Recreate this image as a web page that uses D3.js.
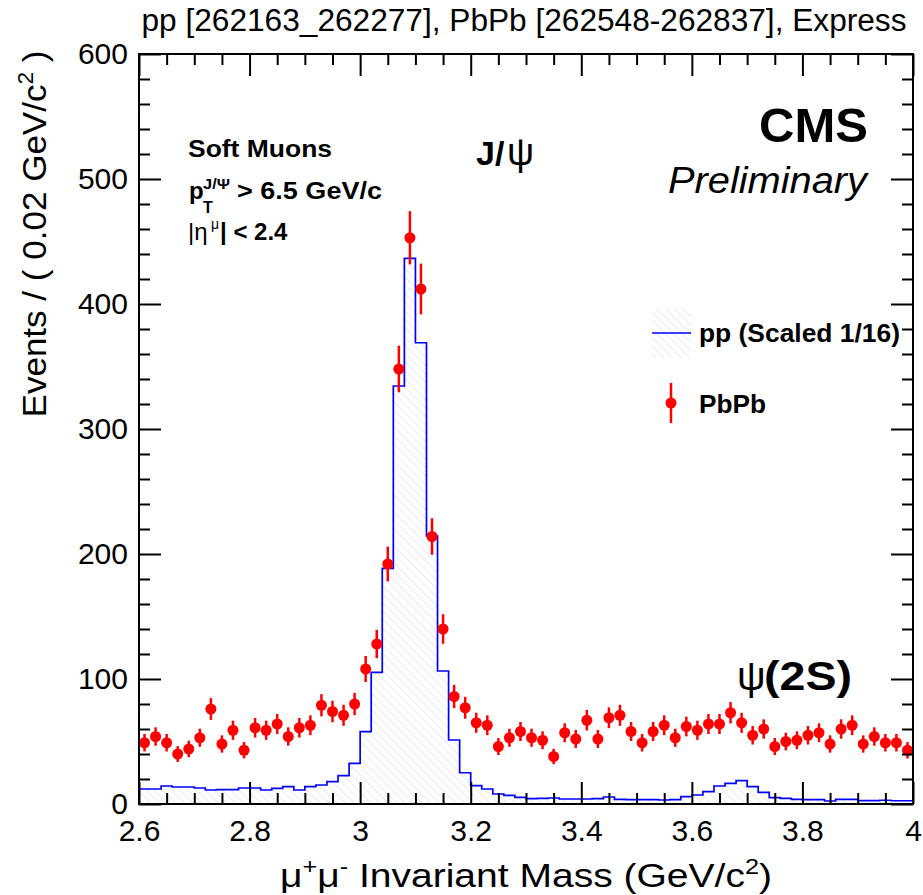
<!DOCTYPE html>
<html>
<head>
<meta charset="utf-8">
<script src="https://cdn.jsdelivr.net/npm/d3@7"></script>
<style>
  body { margin: 0; background: #fff; }
  text { font-family: "Liberation Sans", Arial, Helvetica, sans-serif; fill: #000; }
</style>
</head>
<body>
<div id="chart"></div>
<script>
// binning of the mass axis
var xMin = 2.6, xMax = 4.0, binWidth = 0.02;

// pp reference (scaled 1/16), one value per 0.02 GeV bin from 2.60
var ppCounts = [
  12, 12, 14.4, 13.6, 13.6, 12.8, 11.2, 11.5, 11.5, 12.8,
  12.8, 11.2, 12.5, 13.9, 11.2, 13.9, 15.2, 17.9, 22.7, 32.5,
  57.9, 105.3, 188.5, 334.4, 436.5, 369, 214.4, 106.4, 51.2, 25,
  14.7, 12, 8, 6.9, 5.3, 4.3, 4.5, 4.8, 4, 4,
  4, 4.3, 5.6, 3.7, 3.5, 3.5, 3.5, 3.2, 3.5, 5.9,
  7.2, 9.9, 14.4, 16.5, 18.7, 13.9, 9.3, 5.1, 4.5, 3.7,
  3.5, 3.5, 2.4, 3.7, 3.7, 2.7, 2.7, 3, 2.6, 2.6
];

// PbPb events per bin
var pbpbCounts = [
  49, 54, 49, 40, 44, 53, 76, 48, 59, 43,
  61, 59, 64, 54, 61, 63, 79, 74, 71, 80,
  108, 128, 192, 348, 453, 412, 214, 140, 86, 77,
  65, 63, 46, 53, 58, 53, 51, 38, 57, 52,
  67, 52, 69, 71, 58, 49, 58, 63, 53, 62,
  59, 64, 64, 73, 65, 55, 60, 46, 50, 51,
  55, 57, 48, 60, 63, 48, 54, 49, 49, 43
];

var xMajorTicks = [2.6, 2.8, 3.0, 3.2, 3.4, 3.6, 3.8, 4.0];
var yMajorTicks = [0, 100, 200, 300, 400, 500, 600];

var width = 923,
    height = 895;

var x = d3.scaleLinear().domain([xMin, xMax]).range([139, 913]);
var y = d3.scaleLinear().domain([0, 600]).range([804, 54]);

var svg = d3.select("#chart").append("svg")
  .attr("width", width)
  .attr("height", height);

// hatch for the pp histogram
var defs = svg.append("defs");
defs.append("pattern")
  .attr("id", "hatch")
  .attr("patternUnits", "userSpaceOnUse")
  .attr("width", 6)
  .attr("height", 6)
  .attr("patternTransform", "rotate(-45)")
  .append("line")
  .attr("x1", 0).attr("y1", 0).attr("x2", 0).attr("y2", 6)
  .attr("stroke", "#d9dcf3")
  .attr("stroke-width", 1.2);

defs.append("clipPath").attr("id", "clip")
  .append("rect")
  .attr("x", x(xMin)).attr("y", y(600))
  .attr("width", x(xMax) - x(xMin)).attr("height", y(0) - y(600));

// step data: low edge of every bin, then the last edge
var steps = ppCounts.map(function(v, i) {
  return { m: xMin + i * binWidth, v: v };
});
steps.push({ m: xMax, v: ppCounts[ppCounts.length - 1] });

var plot = svg.append("g").attr("clip-path", "url(#clip)");

plot.append("path")
  .datum(steps)
  .attr("fill", "url(#hatch)")
  .attr("d", d3.area()
    .curve(d3.curveStepAfter)
    .x(function(d) { return x(d.m); })
    .y0(y(0))
    .y1(function(d) { return y(d.v); }));

plot.append("path")
  .datum(steps)
  .attr("fill", "none")
  .attr("stroke", "#0000ff")
  .attr("stroke-width", 1.7)
  .attr("d", d3.line()
    .curve(d3.curveStepAfter)
    .x(function(d) { return x(d.m); })
    .y(function(d) { return y(d.v); }));

// PbPb points with poisson errors
var pts = pbpbCounts.map(function(v, i) {
  return { m: xMin + (i + 0.5) * binWidth, v: v, e: Math.sqrt(v) };
});

plot.selectAll(".err")
  .data(pts)
  .enter().append("line")
  .attr("class", "err")
  .attr("x1", function(d) { return x(d.m); })
  .attr("x2", function(d) { return x(d.m); })
  .attr("y1", function(d) { return y(d.v - d.e); })
  .attr("y2", function(d) { return y(d.v + d.e); })
  .attr("stroke", "#ff0000")
  .attr("stroke-width", 2.5);

plot.selectAll(".pt")
  .data(pts)
  .enter().append("circle")
  .attr("class", "pt")
  .attr("cx", function(d) { return x(d.m); })
  .attr("cy", function(d) { return y(d.v); })
  .attr("r", 5.5)
  .attr("fill", "#ff0000");

// axes, ROOT style: ticks inside on all four sides
var xMinor = d3.range(xMin, xMax + 0.001, 0.05).filter(function(v) {
  return Math.abs(v * 5 - Math.round(v * 5)) > 1e-6;
});
var yMinor = d3.range(0, 601, 20).filter(function(v) { return v % 100 != 0; });

function styleAxis(g) {
  g.select(".domain").remove();
  g.selectAll(".tick line").attr("stroke", "#000").attr("stroke-width", 2);
  g.selectAll(".tick text")
    .style("font-family", '"Liberation Sans", Arial, sans-serif')
    .style("font-size", "30px")
    .attr("fill", "#000");
}

svg.append("g")
  .attr("transform", "translate(0," + y(0) + ")")
  .call(d3.axisBottom(x).tickValues(xMajorTicks).tickSize(-22).tickPadding(16)
    .tickFormat(function(d) { return d3.format("")(+d.toFixed(1)); }))
  .call(styleAxis);
svg.append("g")
  .attr("transform", "translate(0," + y(0) + ")")
  .call(d3.axisBottom(x).tickValues(xMinor).tickSize(-11).tickFormat(""))
  .call(styleAxis);
svg.append("g")
  .attr("transform", "translate(0," + y(600) + ")")
  .call(d3.axisTop(x).tickValues(xMajorTicks).tickSize(-22).tickFormat(""))
  .call(styleAxis);
svg.append("g")
  .attr("transform", "translate(0," + y(600) + ")")
  .call(d3.axisTop(x).tickValues(xMinor).tickSize(-11).tickFormat(""))
  .call(styleAxis);

svg.append("g")
  .attr("transform", "translate(" + x(xMin) + ",0)")
  .call(d3.axisLeft(y).tickValues(yMajorTicks).tickSize(-22).tickPadding(11))
  .call(styleAxis);
svg.append("g")
  .attr("transform", "translate(" + x(xMin) + ",0)")
  .call(d3.axisLeft(y).tickValues(yMinor).tickSize(-11).tickFormat(""))
  .call(styleAxis);
svg.append("g")
  .attr("transform", "translate(" + x(xMax) + ",0)")
  .call(d3.axisRight(y).tickValues(yMajorTicks).tickSize(-22).tickFormat(""))
  .call(styleAxis);
svg.append("g")
  .attr("transform", "translate(" + x(xMax) + ",0)")
  .call(d3.axisRight(y).tickValues(yMinor).tickSize(-11).tickFormat(""))
  .call(styleAxis);

// frame
svg.append("rect")
  .attr("x", x(xMin)).attr("y", y(600))
  .attr("width", x(xMax) - x(xMin)).attr("height", y(0) - y(600))
  .attr("fill", "none")
  .attr("stroke", "#000")
  .attr("stroke-width", 2);

// title
svg.append("text")
  .attr("x", 524).attr("y", 31)
  .attr("text-anchor", "middle")
  .attr("textLength", 765)
  .attr("lengthAdjust", "spacingAndGlyphs")
  .style("font-size", "31px")
  .text("pp [262163_262277], PbPb [262548-262837], Express");

// axis titles
var yl = svg.append("text")
  .attr("transform", "translate(46,234) rotate(-90)")
  .attr("text-anchor", "middle")
  .attr("textLength", 367)
  .attr("lengthAdjust", "spacingAndGlyphs")
  .style("font-size", "34px");
yl.append("tspan").text("Events / ( 0.02 GeV/c");
yl.append("tspan").attr("dy", -13).style("font-size", "22px").text("2");
yl.append("tspan").attr("dy", 13).text(" )");

var xl = svg.append("text")
  .attr("x", 526).attr("y", 887)
  .attr("text-anchor", "middle")
  .attr("textLength", 492)
  .attr("lengthAdjust", "spacingAndGlyphs")
  .style("font-size", "34px");
xl.append("tspan").text("\u03bc");
xl.append("tspan").attr("dy", -13).style("font-size", "22px").text("+");
xl.append("tspan").attr("dy", 13).text("\u03bc");
xl.append("tspan").attr("dy", -13).style("font-size", "22px").text("-");
xl.append("tspan").attr("dy", 13).text(" Invariant Mass (GeV/c");
xl.append("tspan").attr("dy", -13).style("font-size", "22px").text("2");
xl.append("tspan").attr("dy", 13).text(")");

// selection labels
svg.append("text")
  .attr("x", 188).attr("y", 157)
  .attr("textLength", 144).attr("lengthAdjust", "spacingAndGlyphs")
  .style("font-size", "24px").style("font-weight", "bold")
  .text("Soft Muons");

svg.append("text").attr("x", 189).attr("y", 199)
  .style("font-size", "24px").style("font-weight", "bold").text("p");
svg.append("text").attr("x", 203).attr("y", 213)
  .style("font-size", "16px").style("font-weight", "bold").text("T");
svg.append("text").attr("x", 203).attr("y", 189)
  .attr("textLength", 27).attr("lengthAdjust", "spacingAndGlyphs")
  .style("font-size", "14px").style("font-weight", "bold").text("J/\u03a8");
svg.append("text").attr("x", 237).attr("y", 199)
  .attr("textLength", 145).attr("lengthAdjust", "spacingAndGlyphs")
  .style("font-size", "24px").style("font-weight", "bold").text("> 6.5 GeV/c");

svg.append("text").attr("x", 188).attr("y", 240)
  .style("font-size", "24px").text("|\u03b7");
svg.append("text").attr("x", 211).attr("y", 229)
  .style("font-size", "14px").text("\u03bc");
svg.append("text").attr("x", 220).attr("y", 240)
  .style("font-size", "24px").style("font-weight", "bold").text("| < 2.4");

// peak labels
svg.append("text").attr("x", 476).attr("y", 165)
  .style("font-size", "34px").style("font-weight", "bold").text("J/");
svg.append("text").attr("x", 507).attr("y", 165)
  .style("font-size", "38px").text("\u03c8");

svg.append("text").attr("x", 737).attr("y", 690)
  .style("font-size", "40px").text("\u03c8");
svg.append("text").attr("x", 764).attr("y", 690)
  .attr("textLength", 88).attr("lengthAdjust", "spacingAndGlyphs")
  .style("font-size", "40px").style("font-weight", "bold").text("(2S)");

// CMS label
svg.append("text").attr("x", 868).attr("y", 142)
  .attr("text-anchor", "end")
  .style("font-size", "49px").style("font-weight", "bold").text("CMS");
svg.append("text").attr("x", 867).attr("y", 193)
  .attr("text-anchor", "end")
  .attr("textLength", 199).attr("lengthAdjust", "spacingAndGlyphs")
  .style("font-size", "37px").style("font-style", "italic").text("Preliminary");

// legend
var leg = svg.append("g");
leg.append("rect")
  .attr("x", 652).attr("y", 308).attr("width", 39).attr("height", 50)
  .attr("fill", "url(#hatch)");
leg.append("line")
  .attr("x1", 652).attr("x2", 691).attr("y1", 333).attr("y2", 333)
  .attr("stroke", "#0000ff").attr("stroke-width", 1.6);
leg.append("text").attr("x", 699).attr("y", 342)
  .attr("textLength", 201).attr("lengthAdjust", "spacingAndGlyphs")
  .style("font-size", "25px").style("font-weight", "bold").text("pp (Scaled 1/16)");

leg.append("line")
  .attr("x1", 671).attr("x2", 671).attr("y1", 383).attr("y2", 423)
  .attr("stroke", "#ff0000").attr("stroke-width", 2.5);
leg.append("circle")
  .attr("cx", 671).attr("cy", 403).attr("r", 5.5).attr("fill", "#ff0000");
leg.append("text").attr("x", 699).attr("y", 413)
  .attr("textLength", 67).attr("lengthAdjust", "spacingAndGlyphs")
  .style("font-size", "25px").style("font-weight", "bold").text("PbPb");
</script>
</body>
</html>
